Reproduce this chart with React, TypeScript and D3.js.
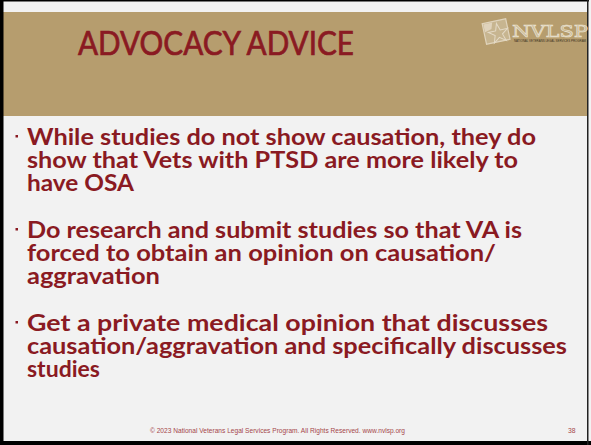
import React, { useEffect } from "react";
import * as d3 from "d3";

const title = "ADVOCACY ADVICE";

const bullets = [
  [
    "While studies do not show causation, they do",
    "show that Vets with PTSD are more likely to",
    "have OSA",
  ],
  [
    "Do research and submit studies so that VA is",
    "forced to obtain an opinion on causation/",
    "aggravation",
  ],
  [
    "Get a private medical opinion that discusses",
    "causation/aggravation and specifically discusses",
    "studies",
  ],
];

// line widths, px
const lineWidths = [
  [509, 491, 107],
  [495, 469, 133],
  [521, 540, 73],
];

const footer =
  "\u00a9 2023 National Veterans Legal Services Program. All Rights Reserved. www.nvlsp.org";
const pageNo = "38";

const W = 591;
const H = 445;
const red = "#8a1a22";
const tan = "#b69d6e";

const App = () => {
  useEffect(() => {
    document.body.style.margin = "0";
  }, []);

  // baseline of each bullet block and line spacing
  const blockY = d3.scaleLinear().domain([0, 1]).range([145, 238]);
  const lineGap = 22.8;

  // star for logo
  const star = d3.symbol().type(d3.symbolStar).size(120)();

  return (
    <svg width={W} height={H} style={{ display: "block" }}>
      <rect x={0} y={0} width={W} height={H} fill="#f2f2f2" />
      <rect x={3} y={12} width={584} height={104} fill={tan} />
      {/* borders */}
      <rect x={0} y={0} width={3.5} height={H} fill="#000" />
      <rect x={0} y={0} width={589} height={1.5} fill="#000" />
      <rect x={0} y={441} width={W} height={4} fill="#000" />
      <rect x={587} y={0} width={1.5} height={H} fill="#222" />

      <text
        x={78}
        y={55}
        fill={red}
        stroke={red}
        strokeWidth={0.7}
        fontFamily="Lato, 'Open Sans', sans-serif"
        fontSize={33}
        textLength={276}
        lengthAdjust="spacingAndGlyphs"
      >
        {title}
      </text>

      {/* logo */}
      <g transform="translate(496,31) rotate(-12)" opacity={0.75}>
        <rect x={-12} y={-10} width={24} height={21} fill="#cdbd9c" stroke="#eee6d6" strokeWidth={1.2} />
        <path d={star as string} fill="none" stroke="#f4efe4" strokeWidth={1} transform="translate(2,3)" />
        <path d="M-11,-9 L-2,-9 L-4,-3 L-11,-1 Z" fill="#eee6d6" />
      </g>
      <text
        x={512}
        y={37}
        fill="#c8b895"
        stroke="#ece4d4"
        strokeWidth={0.6}
        fontFamily="'DejaVu Serif', serif"
        fontSize={17}
        textLength={76}
        lengthAdjust="spacingAndGlyphs"
      >
        NVLSP
      </text>
      <text
        x={514}
        y={42}
        fill="#3a3020"
        fontFamily="Arial, sans-serif"
        fontSize={2.6}
        textLength={72}
        lengthAdjust="spacingAndGlyphs"
      >
        NATIONAL VETERANS LEGAL SERVICES PROGRAM
      </text>

      {bullets.map((lines, bi) => {
        const y0 = blockY(bi);
        return (
          <g key={bi}>
            <rect x={15.5} y={y0 - 10} width={2.5} height={2.5} fill={red} />
            {lines.map((t, li) => (
              <text
                key={li}
                x={27}
                y={y0 + li * lineGap}
                fill={red}
                fontFamily="Lato, 'Open Sans', sans-serif"
                fontWeight="bold"
                fontSize={22}
                textLength={lineWidths[bi][li]}
                lengthAdjust="spacingAndGlyphs"
              >
                {t}
              </text>
            ))}
          </g>
        );
      })}

      <text
        x={150}
        y={433}
        fill="#a5474b"
        fontFamily="'Liberation Sans', Arial, sans-serif"
        fontSize={6.8}
        textLength={255}
        lengthAdjust="spacingAndGlyphs"
      >
        {footer}
      </text>
      <text
        x={568}
        y={433}
        fill="#a5474b"
        fontFamily="'Liberation Sans', Arial, sans-serif"
        fontSize={6.8}
      >
        {pageNo}
      </text>
    </svg>
  );
};

export default App;
